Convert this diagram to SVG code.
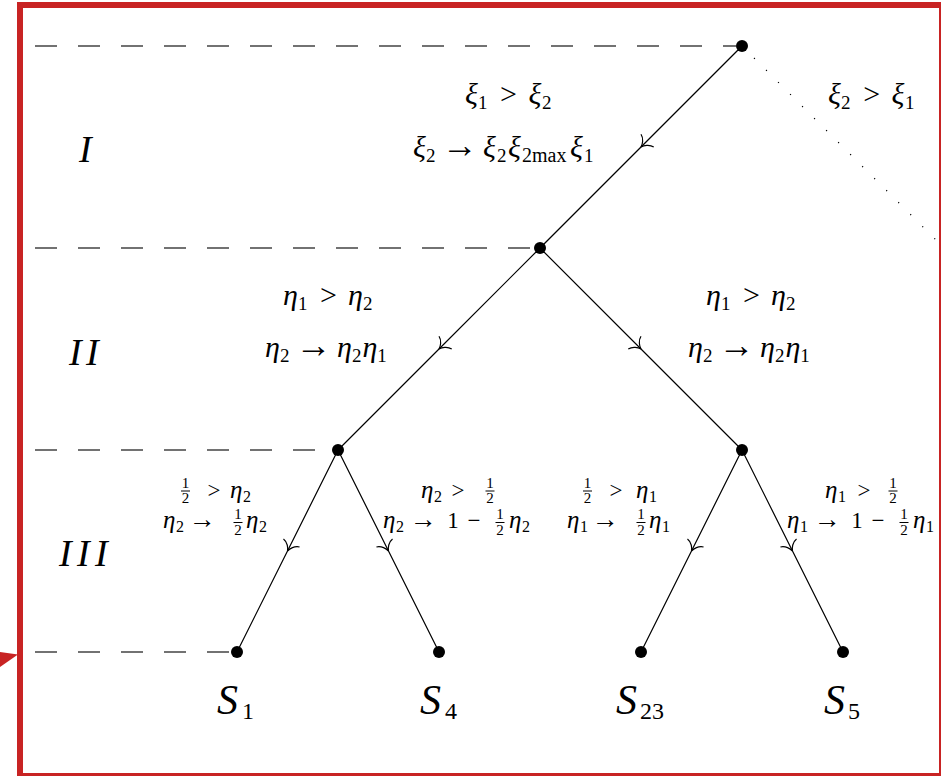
<svg xmlns="http://www.w3.org/2000/svg" width="941" height="776" viewBox="0 0 941 776">
<style>
.mi{font-family:"Liberation Serif",serif;font-style:italic;fill:#000}
.rm{font-family:"Liberation Serif",serif;font-style:normal;fill:#000}
.g1{font-size:30px}
.s1{font-size:19px}
.r1{font-size:30px}
.ar1{font-size:36px}
.g3{font-size:25px}
.s3{font-size:16px}
.r3{font-size:23px}
.ar3{font-size:27px}
.fr{font-size:15px}
.edge{fill:none;stroke:#000;stroke-width:1.2;marker-mid:url(#to)}
.dash{stroke:#444;stroke-width:1.3;stroke-dasharray:22 21}
.node{fill:#000}
.bar{stroke:#000;stroke-width:1}
</style>
<defs>
<marker id="to" markerUnits="userSpaceOnUse" orient="auto" refX="0" refY="0" markerWidth="30" markerHeight="30" viewBox="-15 -15 30 30" overflow="visible">
<path d="M -9,-9 C -8,-4 -3,-0.8 0,0 M -9,9 C -8,4 -3,0.8 0,0" fill="none" stroke="#000" stroke-width="1.2"/>
</marker>
</defs>
<rect width="941" height="776" fill="#fff"/>
<g id="levels">
<line class="dash" x1="35" y1="46" x2="736" y2="46"/>
<line class="dash" x1="35" y1="248" x2="534" y2="248"/>
<line class="dash" x1="35" y1="450" x2="332" y2="450"/>
<line class="dash" x1="35" y1="652" x2="231" y2="652"/>
<text class="mi" font-size="38"><tspan x="79" y="162">I</tspan></text>
<text class="mi" font-size="38"><tspan x="69" y="365">I</tspan><tspan x="86" y="365">I</tspan></text>
<text class="mi" font-size="38"><tspan x="59" y="566">I</tspan><tspan x="77" y="566">I</tspan><tspan x="95" y="566">I</tspan></text>
</g>
<g id="connectors">
<path class="edge" d="M742,46 L641,147 L540,248"/>
<path d="M742,46 L939,243" fill="none" stroke="#000" stroke-width="1.2" stroke-dasharray="1.2 15.8"/>
<path class="edge" d="M540,248 L439,349 L338,450"/>
<path class="edge" d="M540,248 L641,349 L742,450"/>
<path class="edge" d="M338,450 L287.5,551 L237,652"/>
<path class="edge" d="M338,450 L388.5,551 L439,652"/>
<path class="edge" d="M742,450 L691.5,551 L641,652"/>
<path class="edge" d="M742,450 L792.5,551 L843,652"/>
</g>
<g id="labels">
<text class="mi g1"><tspan x="465" y="104">ξ</tspan><tspan class="rm s1" x="478" y="109">1</tspan><tspan class="rm r1" x="508.5" y="104" text-anchor="middle">&gt;</tspan><tspan x="528.5" y="104">ξ</tspan><tspan class="rm s1" x="542" y="109">2</tspan></text>
<text class="mi g1"><tspan x="413" y="157">ξ</tspan><tspan class="rm s1" x="426" y="162">2</tspan><tspan class="rm ar1" x="460" y="157" text-anchor="middle">→</tspan><tspan x="483" y="157">ξ</tspan><tspan class="rm s1" x="497" y="162">2</tspan><tspan x="508" y="157">ξ</tspan><tspan class="rm" font-size="20" x="522" y="162">2max</tspan><tspan x="570" y="157">ξ</tspan><tspan class="rm s1" x="584" y="162">1</tspan></text>
<text class="mi g1"><tspan x="828" y="104">ξ</tspan><tspan class="rm s1" x="841" y="109">2</tspan><tspan class="rm r1" x="871.6" y="104" text-anchor="middle">&gt;</tspan><tspan x="891.5" y="104">ξ</tspan><tspan class="rm s1" x="905" y="109">1</tspan></text>

<text class="mi g1"><tspan x="283" y="305">η</tspan><tspan class="rm s1" x="298" y="310">1</tspan><tspan class="rm r1" x="328.4" y="305" text-anchor="middle">&gt;</tspan><tspan x="348" y="305">η</tspan><tspan class="rm s1" x="363" y="310">2</tspan></text>
<text class="mi g1"><tspan x="265" y="357">η</tspan><tspan class="rm s1" x="280" y="362">2</tspan><tspan class="rm ar1" x="313.7" y="357" text-anchor="middle">→</tspan><tspan x="337" y="357">η</tspan><tspan class="rm s1" x="352" y="362">2</tspan><tspan x="362.4" y="357">η</tspan><tspan class="rm s1" x="377.3" y="362">1</tspan></text>
<text class="mi g1"><tspan x="706" y="305">η</tspan><tspan class="rm s1" x="721" y="310">1</tspan><tspan class="rm r1" x="751.4" y="305" text-anchor="middle">&gt;</tspan><tspan x="771" y="305">η</tspan><tspan class="rm s1" x="786" y="310">2</tspan></text>
<text class="mi g1"><tspan x="688" y="357">η</tspan><tspan class="rm s1" x="703" y="362">2</tspan><tspan class="rm ar1" x="736.7" y="357" text-anchor="middle">→</tspan><tspan x="760" y="357">η</tspan><tspan class="rm s1" x="775" y="362">2</tspan><tspan x="785.4" y="357">η</tspan><tspan class="rm s1" x="800.3" y="362">1</tspan></text>

<text class="rm fr" text-anchor="middle"><tspan x="185.5" y="488">1</tspan><tspan x="185.5" y="503">2</tspan></text>
<line class="bar" x1="181" y1="491" x2="190" y2="491"/>
<text class="mi g3"><tspan class="rm r3" x="214" y="498" text-anchor="middle">&gt;</tspan><tspan x="230" y="498">η</tspan><tspan class="rm s3" x="243" y="502">2</tspan></text>
<text class="mi g3"><tspan x="163" y="528">η</tspan><tspan class="rm s3" x="176" y="532">2</tspan><tspan class="rm ar3" x="202" y="528" text-anchor="middle">→</tspan><tspan x="246" y="528">η</tspan><tspan class="rm s3" x="259" y="532">2</tspan></text>
<text class="rm fr" text-anchor="middle"><tspan x="238" y="519">1</tspan><tspan x="238" y="535">2</tspan></text>
<line class="bar" x1="233.5" y1="522.5" x2="242.5" y2="522.5"/>

<text class="mi g3"><tspan x="421" y="498">η</tspan><tspan class="rm s3" x="434" y="502">2</tspan><tspan class="rm r3" x="458" y="498" text-anchor="middle">&gt;</tspan></text>
<text class="rm fr" text-anchor="middle"><tspan x="490" y="488">1</tspan><tspan x="490" y="503">2</tspan></text>
<line class="bar" x1="485.5" y1="491" x2="494.5" y2="491"/>
<text class="mi g3"><tspan x="383" y="528">η</tspan><tspan class="rm s3" x="396" y="532">2</tspan><tspan class="rm ar3" x="423" y="528" text-anchor="middle">→</tspan><tspan class="rm r3" x="453" y="528" text-anchor="middle">1</tspan><tspan class="rm r3" x="474" y="528" text-anchor="middle">−</tspan><tspan x="509" y="528">η</tspan><tspan class="rm s3" x="522" y="532">2</tspan></text>
<text class="rm fr" text-anchor="middle"><tspan x="500" y="519">1</tspan><tspan x="500" y="535">2</tspan></text>
<line class="bar" x1="495.5" y1="522.5" x2="504.5" y2="522.5"/>

<text class="rm fr" text-anchor="middle"><tspan x="587.5" y="488">1</tspan><tspan x="587.5" y="503">2</tspan></text>
<line class="bar" x1="583" y1="491" x2="592" y2="491"/>
<text class="mi g3"><tspan class="rm r3" x="616" y="498" text-anchor="middle">&gt;</tspan><tspan x="636" y="498">η</tspan><tspan class="rm s3" x="649" y="502">1</tspan></text>
<text class="mi g3"><tspan x="567" y="528">η</tspan><tspan class="rm s3" x="580" y="532">1</tspan><tspan class="rm ar3" x="605" y="528" text-anchor="middle">→</tspan><tspan x="649" y="528">η</tspan><tspan class="rm s3" x="662" y="532">1</tspan></text>
<text class="rm fr" text-anchor="middle"><tspan x="641" y="519">1</tspan><tspan x="641" y="535">2</tspan></text>
<line class="bar" x1="636.5" y1="522.5" x2="645.5" y2="522.5"/>

<text class="mi g3"><tspan x="825" y="498">η</tspan><tspan class="rm s3" x="838" y="502">1</tspan><tspan class="rm r3" x="864" y="498" text-anchor="middle">&gt;</tspan></text>
<text class="rm fr" text-anchor="middle"><tspan x="893" y="488">1</tspan><tspan x="893" y="503">2</tspan></text>
<line class="bar" x1="888.5" y1="491" x2="897.5" y2="491"/>
<text class="mi g3"><tspan x="787" y="528">η</tspan><tspan class="rm s3" x="800" y="532">1</tspan><tspan class="rm ar3" x="827" y="528" text-anchor="middle">→</tspan><tspan class="rm r3" x="857" y="528" text-anchor="middle">1</tspan><tspan class="rm r3" x="878" y="528" text-anchor="middle">−</tspan><tspan x="913" y="528">η</tspan><tspan class="rm s3" x="926" y="532">1</tspan></text>
<text class="rm fr" text-anchor="middle"><tspan x="904" y="519">1</tspan><tspan x="904" y="535">2</tspan></text>
<line class="bar" x1="899.5" y1="522.5" x2="908.5" y2="522.5"/>
</g>
<g id="n_root"><circle class="node" cx="742" cy="46" r="6"/></g>
<g id="n_1"><circle class="node" cx="540" cy="248" r="6"/></g>
<g id="n_2l"><circle class="node" cx="338" cy="450" r="6"/></g>
<g id="n_2r"><circle class="node" cx="742" cy="450" r="6"/></g>
<g id="n_S1"><circle class="node" cx="237" cy="652" r="6"/><text class="mi" font-size="42"><tspan x="217" y="714">S</tspan><tspan class="rm" font-size="24" x="242" y="719">1</tspan></text></g>
<g id="n_S4"><circle class="node" cx="439" cy="652" r="6"/><text class="mi" font-size="42"><tspan x="420" y="714">S</tspan><tspan class="rm" font-size="24" x="445" y="719">4</tspan></text></g>
<g id="n_S23"><circle class="node" cx="641" cy="652" r="6"/><text class="mi" font-size="42"><tspan x="616" y="714">S</tspan><tspan class="rm" font-size="24" x="640" y="719">23</tspan></text></g>
<g id="n_S5"><circle class="node" cx="843" cy="652" r="6"/><text class="mi" font-size="42"><tspan x="824" y="714">S</tspan><tspan class="rm" font-size="24" x="848" y="719">5</tspan></text></g>
<g id="frame">
<rect x="20" y="5" width="922" height="771" fill="none" stroke="#c82323" stroke-width="6"/>
<polygon points="0,652 18,654.5 0,667" fill="#c82323"/>
</g>
</svg>
